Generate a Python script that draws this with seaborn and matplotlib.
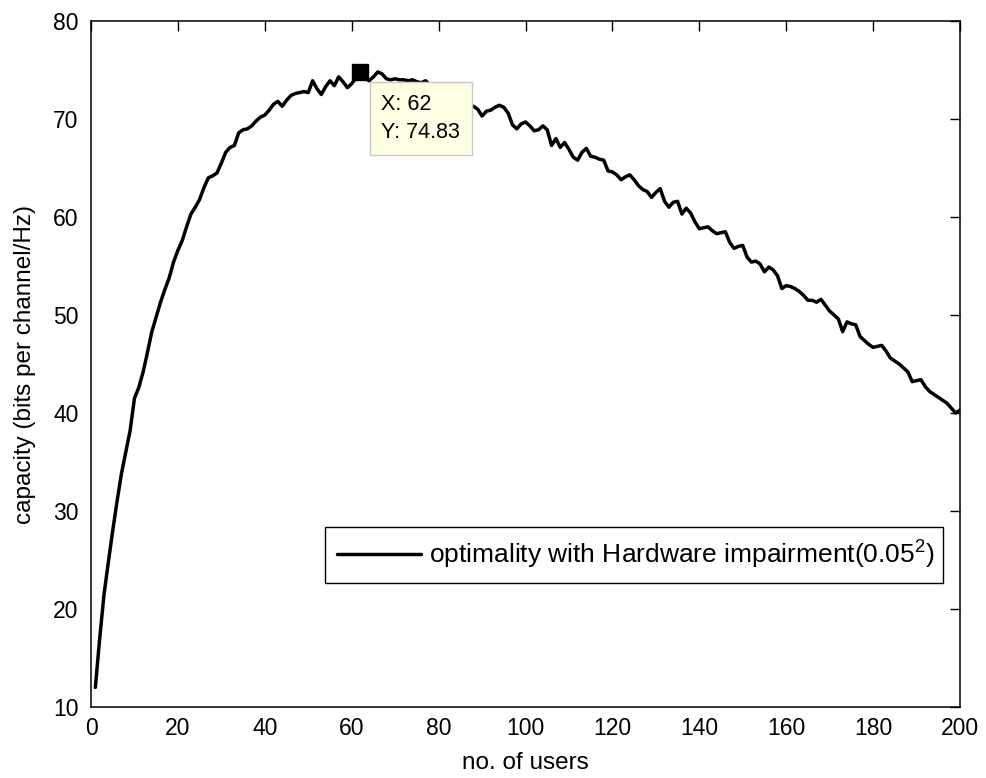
import numpy as np
import pandas as pd
import matplotlib
matplotlib.use("Agg")
import matplotlib.pyplot as plt
import seaborn as sns

# ---------------- data ----------------
users = list(range(1, 201))
capacity = [
    12.0, 17.0, 21.5, 24.8, 28.0, 31.0, 33.8, 36.0, 38.2, 41.5,
    42.6, 44.2, 46.2, 48.3, 49.8, 51.3, 52.6, 53.8, 55.4, 56.6,
    57.6, 59.0, 60.3, 61.0, 61.8, 63.0, 64.0, 64.2, 64.5, 65.5,
    66.6, 67.1, 67.3, 68.6, 68.9, 69.0, 69.3, 69.8, 70.2, 70.4,
    70.9, 71.5, 71.8, 71.3, 71.9, 72.4, 72.6, 72.7, 72.8, 72.7,
    73.9, 73.1, 72.5, 73.3, 73.9, 73.4, 74.3, 73.8, 73.2, 73.6,
    74.2, 74.83, 74.2, 73.9, 74.3, 74.8, 74.6, 74.1, 74.0, 74.1,
    74.0, 74.0, 73.9, 74.0, 73.8, 73.7, 73.9, 73.5, 73.1, 73.3,
    72.8, 72.4, 72.6, 71.9, 71.6, 71.8, 71.2, 71.3, 71.0, 70.3,
    70.8, 70.9, 71.2, 71.4, 71.2, 70.6, 69.4, 69.0, 69.5, 69.7,
    69.3, 68.8, 68.9, 69.3, 68.9, 67.3, 68.0, 67.1, 67.6, 66.9,
    66.1, 65.8, 66.6, 67.0, 66.2, 66.1, 65.9, 65.8, 64.7, 64.6,
    64.3, 63.8, 64.1, 64.3, 63.8, 63.2, 62.8, 62.6, 62.0, 62.5,
    62.9, 61.6, 61.0, 61.5, 61.6, 60.3, 60.9, 60.4, 59.5, 58.8,
    58.9, 59.0, 58.6, 58.3, 58.4, 58.5, 57.4, 56.8, 57.0, 57.1,
    55.9, 55.4, 55.5, 55.2, 54.4, 54.9, 54.6, 54.0, 52.7, 53.0,
    52.9, 52.7, 52.4, 52.0, 51.5, 51.5, 51.3, 51.6, 51.0, 50.4,
    50.0, 49.6, 48.3, 49.3, 49.1, 49.0, 47.8, 47.4, 47.0, 46.7,
    46.8, 46.9, 46.3, 45.6, 45.3, 45.0, 44.6, 44.2, 43.2, 43.3,
    43.4, 42.7, 42.2, 41.9, 41.6, 41.3, 41.0, 40.5, 40.0, 40.3,
]
series_label = "optimality with Hardware impairment(0.05$^{\\mathrm{2}}$)"
tip_x = 62
tip_y = 74.83
x_ticks = [0, 20, 40, 60, 80, 100, 120, 140, 160, 180, 200]
y_ticks = [10, 20, 30, 40, 50, 60, 70, 80]
x_label = "no. of users"
y_label = "capacity (bits per channel/Hz)"

df = pd.DataFrame({"users": users, "capacity": capacity})

# ---------------- style ----------------
sns.set_theme(style="white")
plt.rcParams["font.family"] = ["Liberation Sans", "DejaVu Sans"]
plt.rcParams["text.color"] = "black"
plt.rcParams["axes.labelcolor"] = "black"
plt.rcParams["xtick.color"] = "black"
plt.rcParams["ytick.color"] = "black"
plt.rcParams["mathtext.fontset"] = "custom"
plt.rcParams["mathtext.rm"] = "Liberation Sans"
plt.rcParams["mathtext.it"] = "Liberation Sans:italic"
plt.rcParams["mathtext.bf"] = "Liberation Sans:bold"

fig = plt.figure(figsize=(9.86, 7.78), dpi=100)
fig.patch.set_facecolor("white")
ax = fig.add_axes([91 / 986, 1 - 707 / 778, (960 - 91) / 986, (707 - 21) / 778])

sns.lineplot(data=df, x="users", y="capacity", ax=ax, color="black",
             linewidth=2.5, label=series_label)

ax.set_xlim(0, 200)
ax.set_ylim(10, 80)
ax.set_xticks(x_ticks)
ax.set_yticks(y_ticks)
ax.tick_params(direction="in", length=7, width=1, top=True, right=True,
               labelsize=16.5, colors="black", pad=7)
ax.tick_params(axis="y", pad=9)
for s in ax.spines.values():
    s.set_visible(True)
    s.set_color("black")
    s.set_linewidth(1.1)

ax.set_xlabel(x_label, fontsize=17.5, labelpad=9, color="black")
ax.set_ylabel(y_label, fontsize=17.5, labelpad=12, color="black")

# data tip
ax.plot([tip_x], [tip_y], marker="s", markersize=11, color="black",
        linestyle="none")
ax.annotate(f"X: {tip_x}\nY: {tip_y:.2f}", xy=(tip_x, tip_y),
            xytext=(21, -22), textcoords="offset pixels",
            ha="left", va="top", fontsize=15.5, linespacing=1.45,
            color="black",
            bbox=dict(boxstyle="square,pad=0.55", facecolor="#ffffe4",
                      edgecolor="#c9c9c9", linewidth=1))

# legend
leg = ax.legend(loc="upper left",
                bbox_to_anchor=((325 - 91) / 869, (707 - 527) / 686,
                                (943 - 325) / 869, 0),
                mode="expand", borderaxespad=0, fontsize=19,
                handlelength=3.2, handletextpad=0.3, borderpad=0.45,
                fancybox=False, framealpha=1, edgecolor="black")
leg.get_frame().set_linewidth(1.0)
for t in leg.get_texts():
    t.set_color("black")

fig.savefig("out.png", dpi=100, facecolor="white")
